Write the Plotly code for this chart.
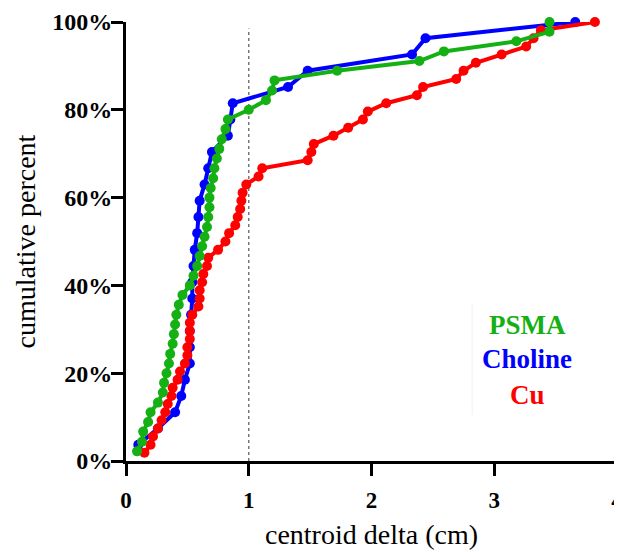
import plotly.graph_objects as go

# PSMA (green)
psma_x = [0.09, 0.13, 0.14, 0.18, 0.20, 0.26, 0.30, 0.31, 0.33, 0.35, 0.36, 0.38, 0.39, 0.40, 0.41,
          0.43, 0.46, 0.52, 0.55, 0.58, 0.60, 0.62, 0.64, 0.66, 0.67, 0.68, 0.68, 0.69, 0.71, 0.72,
          0.74, 0.76, 0.78, 0.81, 0.83, 1.00, 1.14, 1.19, 1.21, 1.72, 2.39, 2.59, 3.18, 3.45, 3.45]
psma_y = [2.2, 4.4, 6.7, 8.9, 11.1, 13.3, 15.6, 17.8, 20.0, 22.2, 24.4, 26.7, 28.9, 31.1, 33.3,
          35.6, 37.8, 40.0, 42.2, 44.4, 46.7, 48.9, 51.1, 53.3, 55.6, 57.8, 60.0, 62.2, 64.4, 66.7,
          68.9, 71.1, 73.3, 75.6, 77.8, 80.0, 82.2, 84.4, 86.7, 88.9, 91.1, 93.3, 95.6, 97.8, 100.0]

# Choline (blue)
choline_x = [0.10, 0.26, 0.40, 0.45, 0.48, 0.52, 0.52, 0.52, 0.53, 0.54, 0.54, 0.55, 0.56, 0.58,
             0.59, 0.60, 0.64, 0.67, 0.70, 0.83, 0.85, 0.87, 1.32, 1.48, 2.33, 2.44, 3.66]
choline_y = [3.7, 7.4, 11.1, 14.8, 18.5, 22.2, 25.9, 29.6, 33.3, 37.0, 40.7, 44.4, 48.1, 51.9,
             55.6, 59.3, 63.0, 66.7, 70.4, 74.1, 77.8, 81.5, 85.2, 88.9, 92.6, 96.3, 100.0]

# Cu (red)
cu_x = [0.15, 0.20, 0.22, 0.26, 0.29, 0.32, 0.34, 0.37, 0.38, 0.42, 0.44, 0.48, 0.50, 0.50,
        0.52, 0.52, 0.52, 0.54, 0.59, 0.60, 0.60, 0.62, 0.63, 0.66, 0.67, 0.75, 0.81, 0.84,
        0.89, 0.91, 0.93, 0.94, 0.95, 0.98, 1.08, 1.11, 1.48, 1.51, 1.53, 1.69, 1.81, 1.93,
        1.97, 2.12, 2.37, 2.42, 2.69, 2.75, 2.85, 3.06, 3.26, 3.32, 3.38, 3.82]
cu_y = [1.9, 3.7, 5.6, 7.4, 9.3, 11.1, 13.0, 14.8, 16.7, 18.5, 20.4, 22.2, 24.1, 25.9,
        27.8, 29.6, 31.5, 33.3, 35.2, 37.0, 38.9, 40.7, 42.6, 44.4, 46.3, 48.1, 50.0, 51.9,
        53.7, 55.6, 57.4, 59.3, 61.1, 63.0, 64.8, 66.7, 68.5, 70.4, 72.2, 74.1, 75.9, 77.8,
        79.6, 81.5, 83.3, 85.2, 87.0, 88.9, 90.7, 92.6, 94.4, 96.3, 98.1, 100.0]

x_ticks = [0, 1, 2, 3, 4]
y_ticks = [0, 20, 40, 60, 80, 100]
y_tick_labels = ["0%", "20%", "40%", "60%", "80%", "100%"]

GREEN = "#14b014"
BLUE = "#0000ff"
RED = "#ff0000"
FONT = "Liberation Serif"

fig = go.Figure()
for name, xs, ys, col in [("Choline", choline_x, choline_y, BLUE),
                          ("Cu", cu_x, cu_y, RED),
                          ("PSMA", psma_x, psma_y, GREEN)]:
    fig.add_trace(go.Scatter(x=xs, y=ys, mode="lines+markers", name=name,
                             line=dict(color=col, width=4),
                             marker=dict(color=col, size=10),
                             cliponaxis=False, showlegend=False))

# dotted reference line at 1 cm
fig.add_shape(type="line", x0=1, x1=1, y0=0, y1=98.5, xref="x", yref="y",
              line=dict(color="#777777", width=1.5, dash="dot"), layer="below")
# faint legend separator
fig.add_shape(type="line", x0=2.82, x1=2.82, y0=10.5, y1=36, xref="x", yref="y",
              line=dict(color="#f0f0f0", width=1), layer="below")

for txt, yv, col in [("PSMA", 31.0, GREEN), ("Choline", 23.2, BLUE), ("Cu", 15.0, RED)]:
    fig.add_annotation(x=3.27, y=yv, xref="x", yref="y", text="<b>%s</b>" % txt,
                       showarrow=False, font=dict(family=FONT, size=27, color=col))

fig.update_layout(
    width=622, height=552,
    margin=dict(l=118, r=13, t=14, b=99),
    plot_bgcolor="white", paper_bgcolor="white",
    font=dict(family=FONT, color="black"),
)
fig.update_xaxes(range=[0, 4], tickvals=x_ticks, ticktext=["<b>%d</b>" % v for v in x_ticks],
                 automargin=False,
                 showgrid=False, zeroline=False, showline=True, linecolor="black", linewidth=3,
                 ticks="outside", ticklen=12, tickwidth=3, tickcolor="black",
                 ticklabelstandoff=4,
                 tickfont=dict(family=FONT, size=23, color="black"),
                 title=dict(text="centroid delta (cm)", font=dict(family=FONT, size=28, color="black"),
                            standoff=13))
fig.update_yaxes(range=[0, 100], tickvals=y_ticks, ticktext=["<b>%s</b>" % t for t in y_tick_labels],
                 automargin=False,
                 showgrid=False, zeroline=False, showline=True, linecolor="black", linewidth=3,
                 ticks="outside", ticklen=12, tickwidth=3, tickcolor="black",
                 ticklabelstandoff=-6,
                 tickfont=dict(family=FONT, size=24, color="black"),
                 title=dict(text="cumulative percent", font=dict(family=FONT, size=28, color="black"),
                            standoff=9))

fig.write_html("out.html")
